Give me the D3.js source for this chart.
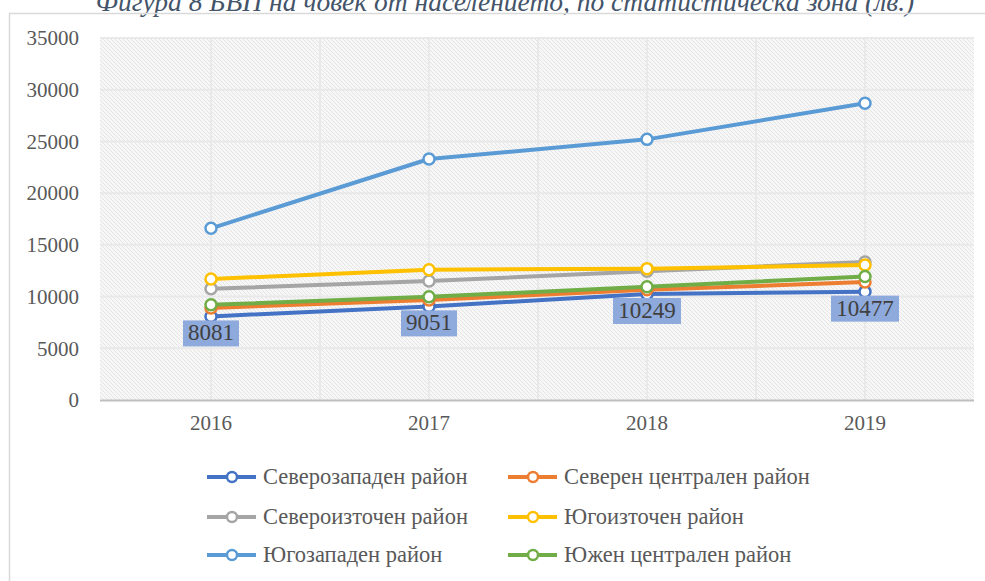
<!DOCTYPE html>
<html>
<head>
<meta charset="utf-8">
<script src="https://cdn.jsdelivr.net/npm/d3@7"></script>
<style>
  body { margin: 0; background: #fff; }
  svg text { font-family: "Liberation Serif", "DejaVu Serif", serif; }
</style>
</head>
<body>
<div id="chart"></div>
<script>
// Data
const years = ["2016", "2017", "2018", "2019"];
const yTicks = [0, 5000, 10000, 15000, 20000, 25000, 30000, 35000];
const seriesNames = [
  "Северозападен район",
  "Северен централен район",
  "Североизточен район",
  "Югоизточен район",
  "Югозападен район",
  "Южен централен район"
];
const severozapaden = [8081, 9051, 10249, 10477];
const severenCentralen = [8900, 9680, 10650, 11400];
const severoiztochen = [10750, 11500, 12450, 13350];
const yugoiztochen = [11700, 12600, 12700, 13050];
const yugozapaden = [16600, 23300, 25200, 28700];
const yuzhenCentralen = [9200, 9980, 10950, 11950];
const seriesValues = [severozapaden, severenCentralen, severoiztochen, yugoiztochen, yugozapaden, yuzhenCentralen];
const labelledSeries = 0; // only Северозападен has data labels

const colors = ["#4472C4", "#ED7D31", "#A5A5A5", "#FFC000", "#5B9BD5", "#70AD47"];

const W = 985, H = 581;
const plot = { left: 102, right: 974, top: 38, bottom: 400 };

const svg = d3.select("#chart").append("svg")
  .attr("width", W)
  .attr("height", H);

// hatched pattern for plot area
const defs = svg.append("defs");
const pat = defs.append("pattern")
  .attr("id", "hatch")
  .attr("patternUnits", "userSpaceOnUse")
  .attr("width", 4)
  .attr("height", 4);
pat.append("rect").attr("width", 4).attr("height", 4).attr("fill", "#f7f7f7");
pat.append("path")
  .attr("d", "M-1,-1 L5,5 M-1,3 L1,5 M3,-1 L5,1")
  .attr("stroke", "#e4e4e4")
  .attr("stroke-width", 1);

// title (cut off at the top, as in the original)
svg.append("text")
  .attr("x", 505)
  .attr("y", 11)
  .attr("text-anchor", "middle")
  .attr("font-style", "italic")
  .attr("font-size", 27.5)
  .attr("fill", "#44546A")
  .text("Фигура 8 БВП на човек от населението, по статистическа зона (лв.)");

// chart border
svg.append("path")
  .attr("d", `M${W + 2},13.5 H9.5 V${H + 2}`)
  .attr("fill", "none")
  .attr("stroke", "#d9d9d9")
  .attr("stroke-width", 1.5);

const x = d3.scaleBand().domain(years).range([plot.left, plot.right]);
const y = d3.scaleLinear().domain([0, 35000]).range([plot.bottom, plot.top]);
const cx = d => x(d) + x.bandwidth() / 2;

// plot background
svg.append("rect")
  .attr("x", plot.left - 2)
  .attr("y", plot.top)
  .attr("width", plot.right - plot.left + 2)
  .attr("height", plot.bottom - plot.top)
  .attr("fill", "url(#hatch)");

// gridlines
svg.append("g")
  .selectAll("line")
  .data(yTicks.slice(1))
  .join("line")
  .attr("x1", plot.left - 2)
  .attr("x2", plot.right)
  .attr("y1", d => y(d))
  .attr("y2", d => y(d))
  .attr("stroke", "#e9e9e9")
  .attr("stroke-width", 2);

const vLines = years.map(cx).concat(years.slice(1).map(d => x(d)));
svg.append("g")
  .selectAll("line")
  .data(vLines)
  .join("line")
  .attr("x1", d => d)
  .attr("x2", d => d)
  .attr("y1", plot.top)
  .attr("y2", plot.bottom)
  .attr("stroke", "#e9e9e9")
  .attr("stroke-width", 2);

// y axis labels
const yAxis = svg.append("g")
  .attr("transform", `translate(${plot.left - 20},0)`)
  .call(d3.axisLeft(y).tickValues(yTicks).tickSize(0).tickFormat(d3.format("d")));
yAxis.select(".domain").remove();
yAxis.attr("font-family", null);
yAxis.selectAll("text")
  .attr("font-size", 21)
  .attr("fill", "#595959");

// x axis
const xAxis = svg.append("g")
  .attr("transform", `translate(0,${plot.bottom})`)
  .call(d3.axisBottom(x).tickSize(0).tickPadding(15));
xAxis.attr("font-family", null);
xAxis.select(".domain")
  .attr("d", `M${plot.left - 2},0.5H${plot.right}`)
  .attr("stroke", "#bfbfbf")
  .attr("stroke-width", 2);
xAxis.selectAll("text")
  .attr("font-size", 21)
  .attr("fill", "#595959");

// lines and markers
const line = d3.line()
  .x((d, i) => cx(years[i]))
  .y(d => y(d));

seriesValues.forEach((vals, s) => {
  const g = svg.append("g");
  g.append("path")
    .datum(vals)
    .attr("fill", "none")
    .attr("stroke", colors[s])
    .attr("stroke-width", 4)
    .attr("stroke-linejoin", "round")
    .attr("d", line);
  g.selectAll("circle")
    .data(vals)
    .join("circle")
    .attr("cx", (d, i) => cx(years[i]))
    .attr("cy", d => y(d))
    .attr("r", 5.5)
    .attr("fill", "#fff")
    .attr("stroke", colors[s])
    .attr("stroke-width", 2.5);
});

// data labels for Северозападен район
const labels = svg.append("g")
  .selectAll("g")
  .data(seriesValues[labelledSeries])
  .join("g")
  .attr("transform", (d, i) => `translate(${cx(years[i])},${y(d) + 4})`);
labels.append("rect")
  .attr("x", d => -String(d).length * 6 - 4)
  .attr("width", d => String(d).length * 12 + 8)
  .attr("height", 26)
  .attr("fill", "#8EA9DB");
labels.append("text")
  .attr("y", 20)
  .attr("text-anchor", "middle")
  .attr("font-size", 23)
  .attr("fill", "#404040")
  .text(d => d);

// legend
const legendCols = [207, 508];
const legendRows = [477, 517, 555];
const legend = svg.append("g")
  .selectAll("g")
  .data(seriesNames)
  .join("g")
  .attr("transform", (d, i) => `translate(${legendCols[i % 2]},${legendRows[Math.floor(i / 2)]})`);
legend.append("line")
  .attr("x1", 0)
  .attr("x2", 49)
  .attr("stroke", (d, i) => colors[i])
  .attr("stroke-width", 4);
legend.append("circle")
  .attr("cx", 25)
  .attr("r", 5)
  .attr("fill", "#fff")
  .attr("stroke", (d, i) => colors[i])
  .attr("stroke-width", 2.5);
legend.append("text")
  .attr("x", 56)
  .attr("y", 7)
  .attr("font-size", 22.5)
  .attr("fill", "#595959")
  .text(d => d);
</script>
</body>
</html>
